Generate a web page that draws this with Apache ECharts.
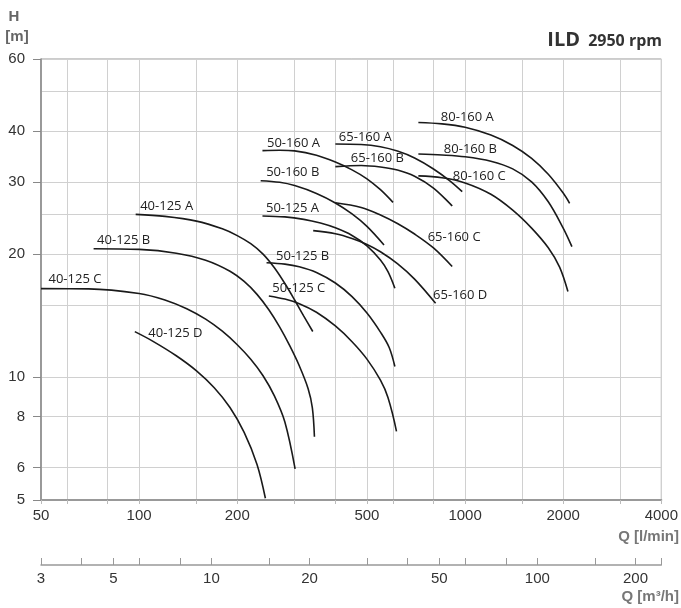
<!DOCTYPE html>
<html>
<head>
<meta charset="utf-8">
<script src="https://cdn.jsdelivr.net/npm/echarts@6.0.0/dist/echarts.min.js"></script>
<style>
html,body{margin:0;padding:0;background:#fff;}
#chart{width:681px;height:608px;}
</style>
</head>
<body>
<div id="chart"></div>
<script>
// ---- axis ticks / labels ----
const gridTicksQ = [50,60,80,100,150,200,300,400,500,600,800,1000,1500,2000,3000,4000];
const labelsQ = [50,100,200,500,1000,2000,4000];
const gridTicksH = [5,6,8,10,15,20,25,30,40,50,60];
const labelsH = [5,6,8,10,20,30,40,60];
const ticksQm3 = [3,4,5,6,8,10,15,20,30,40,50,60,80,100,150,200,240];
const labelsQm3 = [3,5,10,20,50,100,200];

// ---- curve data: Q [l/min], H [m] ----
const q40125A = [97.6,120,150,180,200,220,240,260,280,300,320,341];
const h40125A = [25.0,24.72,24.07,23.04,22.18,21.19,19.98,18.5,16.93,15.43,14.09,12.92];
const q40125B = [72.5,100,130,160,190,210,230,250,270,290,310,330,340,345];
const h40125B = [20.6,20.52,20.09,19.31,18.15,17.13,15.93,14.6,13.24,11.91,10.65,9.36,8.4,7.14];
const q40125C = [50,70,100,120,140,160,180,200,220,240,260,280,301];
const h40125C = [16.45,16.43,16.01,15.44,14.69,13.85,12.94,11.99,11.05,10.07,8.99,7.76,5.96];
const q40125D = [97,110,130,150,170,190,210,230,244];
const h40125D = [12.91,12.24,11.27,10.35,9.41,8.42,7.32,6.11,5.05];
const q50125A = [239,280,320,360,400,450,500,550,580,609];
const h50125A = [24.78,24.65,24.31,23.8,23.17,22.2,20.94,19.33,18.1,16.49];
const q50125B = [246,280,310,350,400,450,500,550,585,609];
const h50125B = [19.04,18.89,18.61,18.02,16.98,15.73,14.34,12.88,11.81,10.61];
const q50125C = [250,280,310,350,400,450,500,550,580,616];
const h50125C = [15.79,15.51,15.11,14.4,13.33,12.2,11.06,9.82,8.91,7.36];
const q50160A = [239,270,300,350,400,450,500,550,601];
const h50160A = [35.8,35.88,35.75,34.88,33.57,32.13,30.55,28.73,26.75];
const q50160B = [236,270,300,350,400,450,500,564];
const h50160B = [30.22,29.95,29.4,28.13,26.66,25.06,23.36,21.04];
const q65160A = [400,480,550,620,700,800,900,980];
const h65160A = [37.18,37.07,36.59,35.71,34.35,32.29,30.16,28.41];
const q65160B = [400,480,550,620,700,800,913];
const h65160B = [32.71,32.93,32.65,32.1,31.0,29.0,26.21];
const q65160C = [400,480,550,620,700,800,913];
const h65160C = [26.7,26.0,24.92,23.75,22.38,20.69,18.63];
const q65160D = [342,400,450,500,550,620,700,812];
const h65160D = [22.81,22.41,21.82,21.1,20.25,18.94,17.36,15.15];
const q80160A = [719,850,1000,1200,1400,1600,1800,2000,2093];
const h80160A = [41.96,41.63,40.83,39.08,36.86,34.27,31.34,28.19,26.61];
const q80160B = [719,850,1000,1200,1400,1600,1800,2000,2127];
const h80160B = [35.14,34.94,34.59,33.74,32.31,30.03,26.84,23.14,20.84];
const q80160C = [719,850,1000,1200,1400,1600,1800,1950,2068];
const h80160C = [31.05,30.72,29.85,28.0,25.61,23.14,20.71,18.57,16.18];

const curves = [
  {name:'40-125 A', q:q40125A, h:h40125A},
  {name:'40-125 B', q:q40125B, h:h40125B},
  {name:'40-125 C', q:q40125C, h:h40125C},
  {name:'40-125 D', q:q40125D, h:h40125D},
  {name:'50-125 A', q:q50125A, h:h50125A},
  {name:'50-125 B', q:q50125B, h:h50125B},
  {name:'50-125 C', q:q50125C, h:h50125C},
  {name:'50-160 A', q:q50160A, h:h50160A},
  {name:'50-160 B', q:q50160B, h:h50160B},
  {name:'65-160 A', q:q65160A, h:h65160A},
  {name:'65-160 B', q:q65160B, h:h65160B},
  {name:'65-160 C', q:q65160C, h:h65160C},
  {name:'65-160 D', q:q65160D, h:h65160D},
  {name:'80-160 A', q:q80160A, h:h80160A},
  {name:'80-160 B', q:q80160B, h:h80160B},
  {name:'80-160 C', q:q80160C, h:h80160C}
];

// label placement (style only): anchor at start/end point, pixel offset
const labelPlace = {
  '40-125 A':{end:false, off:[4,-8]},
  '40-125 B':{end:false, off:[3,-8]},
  '40-125 C':{end:false, off:[7,-9]},
  '40-125 D':{end:false, off:[13,2]},
  '50-125 A':{end:false, off:[3,-8]},
  '50-125 B':{end:false, off:[9,-6]},
  '50-125 C':{end:false, off:[3,-8]},
  '50-160 A':{end:false, off:[4,-7]},
  '50-160 B':{end:false, off:[5,-8]},
  '65-160 A':{end:false, off:[3,-7]},
  '65-160 B':{end:false, off:[15,-8]},
  '65-160 C':{end:true, off:[-25,-29]},
  '65-160 D':{end:true, off:[-3,-8]},
  '80-160 A':{end:false, off:[22,-5]},
  '80-160 B':{end:false, off:[25,-5]},
  '80-160 C':{end:false, off:[34,0]}
};

const LBL_FONT = "'Open Sans', 'Noto Sans', sans-serif";
const AX_FONT = "'Liberation Sans Narrow', 'Arial Narrow', 'Liberation Sans', Arial, sans-serif";
const plain = v => String(v);

const series = curves.map(c => {
  const pl = labelPlace[c.name];
  const idx = pl.end ? c.q.length - 1 : 0;
  return {
    type:'line', name:c.name, xAxisIndex:0, yAxisIndex:0,
    data: c.q.map((v,i)=>[v, c.h[i]]),
    symbol:'none', smooth:0.35, silent:true,
    lineStyle:{color:'#1a1a1a', width:1.6},
    markPoint:{
      silent:true, animation:false,
      symbol:'circle', symbolSize:1,
      itemStyle:{color:'rgba(0,0,0,0)'},
      data:[{
        coord:[c.q[idx], c.h[idx]],
        label:{show:true, formatter:c.name, position:'right', distance:0, offset:pl.off,
          color:'#222', fontFamily:LBL_FONT, fontSize:13}
      }]
    }
  };
});

const chart = echarts.init(document.getElementById('chart'), null, {renderer:'canvas'});
chart.setOption({
  animation:false,
  backgroundColor:'#fff',
  grid:{left:41, right:18, top:59, bottom:108, show:true, borderColor:'#999', borderWidth:1},
  xAxis:[
    {type:'log', logBase:10, min:50, max:4000, position:'bottom',
     axisLine:{show:true, lineStyle:{color:'#999', width:2}},
     axisTick:{show:true, customValues:gridTicksQ, length:4, lineStyle:{color:'#bbb'}},
     axisLabel:{customValues:labelsQ, formatter:plain, color:'#333', fontFamily:AX_FONT, fontSize:15, margin:8},
     splitLine:{show:true, lineStyle:{color:'#d0d0d0', width:1}},
     minorTick:{show:false}, minorSplitLine:{show:false}},
    {type:'log', logBase:10, min:3, max:240, position:'bottom', offset:65,
     axisLine:{show:true, lineStyle:{color:'#999', width:1.5}},
     axisTick:{show:true, inside:true, customValues:ticksQm3, length:7, lineStyle:{color:'#999'}},
     axisLabel:{customValues:labelsQm3, formatter:plain, color:'#333', fontFamily:AX_FONT, fontSize:15, margin:6},
     splitLine:{show:false}}
  ],
  yAxis:[
    {type:'log', logBase:10, min:5, max:60, position:'left',
     axisLine:{show:true, lineStyle:{color:'#888', width:1.5}},
     axisTick:{show:true, customValues:labelsH, length:8, lineStyle:{color:'#888'}},
     axisLabel:{customValues:labelsH, formatter:plain, color:'#333', fontFamily:AX_FONT, fontSize:15, margin:16},
     splitLine:{show:false}},
    {type:'log', logBase:10, min:5, max:60, position:'left',
     axisLine:{show:false},
     axisTick:{show:false, customValues:gridTicksH},
     axisLabel:{show:false},
     splitLine:{show:true, lineStyle:{color:'#d0d0d0', width:1}}}
  ],
  graphic:[
    {type:'text', x:14, y:17, style:{text:'H', font:"bold 15px 'Liberation Sans', Arial, sans-serif", fill:'#666', align:'center', verticalAlign:'middle'}},
    {type:'text', x:17, y:37, style:{text:'[m]', font:"bold 15px 'Liberation Sans', Arial, sans-serif", fill:'#666', align:'center', verticalAlign:'middle'}},
    {type:'text', x:679, y:537, style:{text:'Q [l/min]', font:"bold 15px 'Liberation Sans', Arial, sans-serif", fill:'#777', align:'right', verticalAlign:'middle'}},
    {type:'text', x:679, y:597, style:{text:'Q [m³/h]', font:"bold 15px 'Liberation Sans', Arial, sans-serif", fill:'#777', align:'right', verticalAlign:'middle'}},
    {type:'text', x:580, y:40, style:{text:'ILD', font:"bold 20px 'Open Sans', 'Noto Sans', sans-serif", fill:'#333', align:'right', verticalAlign:'middle'}},
    {type:'text', x:662, y:41, style:{text:'2950 rpm', font:"bold 16px 'Open Sans', 'Noto Sans', sans-serif", fill:'#333', align:'right', verticalAlign:'middle'}}
  ],
  series: series
});
</script>
</body>
</html>
